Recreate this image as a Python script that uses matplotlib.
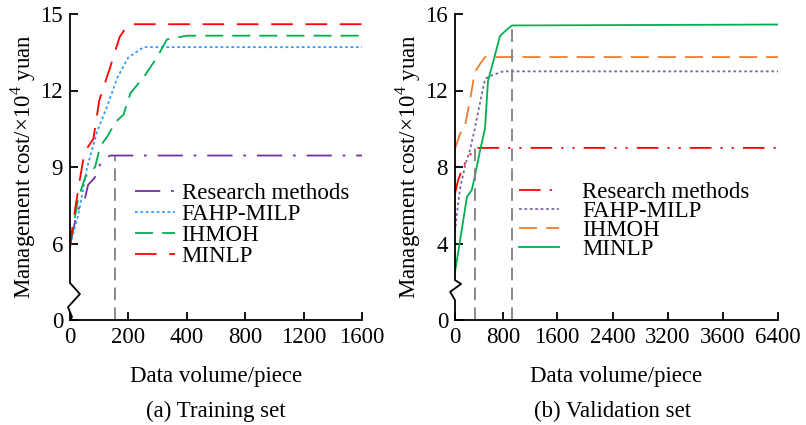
import numpy as np
import matplotlib
matplotlib.use("Agg")
import matplotlib.pyplot as plt

plt.rcParams["font.family"] = ["Liberation Serif", "DejaVu Serif"]
plt.rcParams["mathtext.fontset"] = "custom"
plt.rcParams["mathtext.rm"] = "Liberation Serif"
plt.rcParams["font.size"] = 16.5

# ---- data: (a) training set ----
tr_res_x = [0, 24, 41, 52, 62, 86, 93, 114, 138, 1600]
tr_res_y = [5.9, 7.2, 7.7, 7.8, 8.3, 8.6, 8.9, 9.3, 9.45, 9.45]
tr_fahp_x = [0, 28, 59, 93, 128, 162, 200, 252, 1600]
tr_fahp_y = [5.9, 7.1, 9.0, 10.4, 11.4, 12.5, 13.3, 13.7, 13.7]
tr_ihm_x = [0, 28, 52, 86, 103, 128, 155, 183, 207, 251, 298, 332, 400, 1600]
tr_ihm_y = [5.9, 7.75, 8.6, 9.0, 9.8, 10.2, 10.75, 11.05, 11.9, 12.5, 13.3, 14.0, 14.15, 14.15]
tr_minlp_x = [0, 10, 35, 50, 80, 100, 140, 170, 200, 1600]
tr_minlp_y = [5.6, 6.8, 8.6, 9.6, 10.1, 11.6, 13.0, 14.1, 14.6, 14.6]
tr_vline_x = 155
tr_xticks = [0, 200, 400, 800, 1200, 1600]
tr_yticks = [0, 6, 9, 12, 15]

# ---- data: (b) validation set ----
va_res_x = [0, 50, 117, 167, 217, 283, 367, 6400]
va_res_y = [6.6, 7.3, 7.85, 8.2, 8.35, 8.85, 9.0, 9.0]
va_fahp_x = [0, 30, 80, 170, 250, 330, 420, 500, 580, 800, 6400]
va_fahp_y = [4.6, 5.5, 6.8, 8.1, 8.9, 10.0, 11.4, 12.6, 12.75, 13.0, 13.0]
va_ihm_x = [0, 80, 170, 250, 330, 420, 500, 6400]
va_ihm_y = [8.95, 9.7, 10.2, 11.5, 12.95, 13.4, 13.75, 13.75]
va_minlp_x = [0, 200, 280, 330, 420, 500, 550, 670, 750, 830, 930, 6400]
va_minlp_y = [2.5, 6.45, 6.8, 7.5, 8.9, 10.0, 12.5, 13.9, 14.85, 15.1, 15.4, 15.45]
va_vline_x = [330, 930]
va_vline_top = [9.0, 15.45]
va_xticks = [0, 800, 1600, 2400, 3200, 3600, 6400]
va_yticks = [0, 4, 8, 12, 16]

labels = ["Research methods", "FAHP-MILP", "IHMOH", "MINLP"]


def piecewise(vals, pos):
    vals = np.asarray(vals, float); pos = np.asarray(pos, float)
    fwd = lambda v: np.interp(v, vals, pos)
    inv = lambda p: np.interp(p, pos, vals)
    return fwd, inv


fig = plt.figure(figsize=(8.06, 4.25), dpi=100)
ax1 = fig.add_axes([70/806, 105/425, 292/806, 306/425])
ax2 = fig.add_axes([455/806, 105/425, 323/806, 306/425])

# non-uniform axes as drawn in the original
ax1.set_xscale("function", functions=piecewise([-200, 0, 200, 400, 800, 1200, 1600, 2000],
                                               [-1, 0, 1, 2, 3, 4, 5, 6]))
ax1.set_yscale("function", functions=piecewise([-6, 0, 6, 9, 12, 15, 30], [-1, 0, 1, 2, 3, 4, 9]))
ax2.set_xscale("function", functions=piecewise([-800, 0, 800, 1600, 2400, 3200, 3600, 6400, 9200],
                                               [-48, 0, 48, 102, 158, 213, 268, 323, 378]))

lw = 1.3
ax1.plot(tr_res_x, tr_res_y, color="#7030A0", lw=lw, ls=(0, (14, 6, 1.5, 6)), label=labels[0])
ax1.plot(tr_fahp_x, tr_fahp_y, color="#3399FF", lw=lw, ls=(0, (1.5, 1.5)), label=labels[1])
ax1.plot(tr_ihm_x, tr_ihm_y, color="#00B050", lw=lw, ls=(0, (10, 5)), label=labels[2])
ax1.plot(tr_minlp_x, tr_minlp_y, color="#FF0000", lw=lw, ls=(0, (12, 7)), label=labels[3])
ax1.plot([tr_vline_x, tr_vline_x], [0, tr_res_y[-1]], color="#808080", lw=lw, ls=(0, (7, 4)))

ax2.plot(va_res_x, va_res_y, color="#FF0000", lw=lw, ls=(0, (12, 5, 1.2, 5, 1.2, 5)), label=labels[0])
ax2.plot(va_fahp_x, va_fahp_y, color="#8064A2", lw=lw, ls=(0, (1.5, 1.5)), label=labels[1])
ax2.plot(va_ihm_x, va_ihm_y, color="#ED7D31", lw=lw, ls=(0, (10, 5)), label=labels[2])
ax2.plot(va_minlp_x, va_minlp_y, color="#00B050", lw=lw, ls="-", label=labels[3])
for vx, vt in zip(va_vline_x, va_vline_top):
    ax2.plot([vx, vx], [0, vt], color="#808080", lw=lw, ls=(0, (7, 4)))

ax1.set_xlim(0, 1600); ax1.set_ylim(0, 15)
ax2.set_xlim(0, 6400); ax2.set_ylim(0, 16)
ax1.set_xticks(tr_xticks); ax1.set_yticks(tr_yticks)
ax2.set_xticks(va_xticks); ax2.set_yticks(va_yticks)
ax1.set_xticklabels([str(t) for t in tr_xticks]); ax1.set_yticklabels([str(t) for t in tr_yticks])
ax2.set_xticklabels([str(t) for t in va_xticks]); ax2.set_yticklabels([str(t) for t in va_yticks])
ax1.minorticks_off(); ax2.minorticks_off()

# zigzag break marks on the y axis (axes fraction coords)
zig1 = ([0, 0, 0.034, -0.007, 0.007, 0], [1, 0.121, 0.085, 0.042, 0.01, 0])
zig2 = ([0, 0, 0.019, -0.015, 0, 0], [1, 0.13, 0.118, 0.092, 0.065, 0])
for ax, (zx, zy) in [(ax1, zig1), (ax2, zig2)]:
    for s in ["top", "right", "left"]:
        ax.spines[s].set_visible(False)
    ax.spines["bottom"].set_linewidth(1.3)
    ax.plot(zx, zy, color="black", lw=1.3, transform=ax.transAxes, clip_on=False)
    ax.tick_params(direction="in", length=6, width=1.3, pad=5)
    ax.set_xlabel("Data volume/piece", labelpad=13)
    ax.set_ylabel(r"Management cost/$\times$10$^4$ yuan", labelpad=2)

ax1.legend(loc="upper left", bbox_to_anchor=(0.19, 0.478), frameon=False, handlelength=1.75,
           handletextpad=0.3, labelspacing=0.0, borderaxespad=0, fontsize=16.5)
ax2.legend(loc="upper left", bbox_to_anchor=(0.17, 0.482), frameon=False, handlelength=1.75,
           handletextpad=1.0, labelspacing=-0.08, borderaxespad=0, fontsize=16.5)

fig.text(216/806, 1 - 411/425, "(a) Training set", ha="center", va="center")
fig.text(613/806, 1 - 411/425, "(b) Validation set", ha="center", va="center")

fig.savefig("out.png", dpi=100)
